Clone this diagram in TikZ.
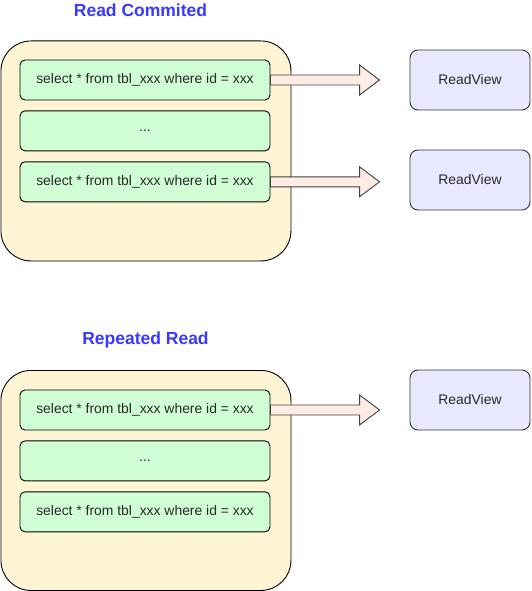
\documentclass[tikz,border=0pt]{standalone}
\usepackage{fontspec}
\setmainfont{Liberation Sans}
\usetikzlibrary{positioning,calc}

\definecolor{titleblue}{RGB}{56,56,255}
\definecolor{lvlyellow}{RGB}{255,245,212}
\definecolor{qgreen}{RGB}{208,255,214}
\definecolor{viewblue}{RGB}{232,232,255}
\definecolor{arrowpink}{RGB}{255,237,229}
\definecolor{textgrey}{RGB}{40,40,40}

\begin{document}
\begin{tikzpicture}[x=1pt,y=-1pt,node distance=10pt,line width=0.9pt]
      \tikzstyle{title}=[text=titleblue,font=\fontsize{17.5}{20}\selectfont\bfseries]
      \tikzstyle{level}=[draw=black,fill=lvlyellow,rounded corners=30pt,
                         minimum width=290pt,minimum height=220pt,anchor=north west]
      \tikzstyle{query}=[draw=black,fill=qgreen,rounded corners=5pt,
                         minimum width=250pt,minimum height=40pt,text=textgrey,
                         font=\fontsize{13.9}{16}\selectfont]
      \tikzstyle{view}=[draw=black!80,fill=viewblue,rounded corners=8pt,
                        minimum width=120pt,minimum height=60pt,text=textgrey,
                        font=\fontsize{13.9}{16}\selectfont]
      \tikzstyle{bigarrow}=[draw=black!75,fill=arrowpink,line join=miter]

      \useasboundingbox (0,0) rectangle (531,591);

      % Read Commited
      \node[title]          (rctitle) at (140.5,10) {Read Commited};
      \node[level]          (rc)      at (0.5,40.5) {};
      \node[query]          (q1)      at (145,80)   {select * from tbl\_xxx where id = xxx};
      \node[query]          (q2)      [below=of q1] {...};
      \node[query]          (q3)      [below=of q2] {select * from tbl\_xxx where id = xxx};
      \node[view]           (rv1)     at (470,80)   {ReadView};
      \node[view]           (rv2)     at (470,180)  {ReadView};

      % Repeated Read
      \node[title]          (rrtitle) at (145.5,340) {Repeated Read};
      \node[level]          (rr)      at (0.5,370) {};
      \node[query]          (p1)      at (145,410)  {select * from tbl\_xxx where id = xxx};
      \node[query]          (p2)      [below=of p1] {...};
      \node[query]          (p3)      [below=of p2] {select * from tbl\_xxx where id = xxx};
      \node[view]           (rv3)     at (470,400)  {ReadView};

      % the fat arrows, query -> read view (kept level with the query)
      \foreach \src/\dst in {q1/rv1,q3/rv2,p1/rv3}
        \draw[bigarrow] ($(\src.east)+(0,-5)$)
            -- ($(\src.east -| \dst.west)+(-50,-5)$)
            -- ($(\src.east -| \dst.west)+(-50,-15)$)
            -- ($(\src.east -| \dst.west)+(-30,0)$)
            -- ($(\src.east -| \dst.west)+(-50,15)$)
            -- ($(\src.east -| \dst.west)+(-50,5)$)
            -- ($(\src.east)+(0,5)$) -- cycle;

    \end{tikzpicture}
\end{document}
